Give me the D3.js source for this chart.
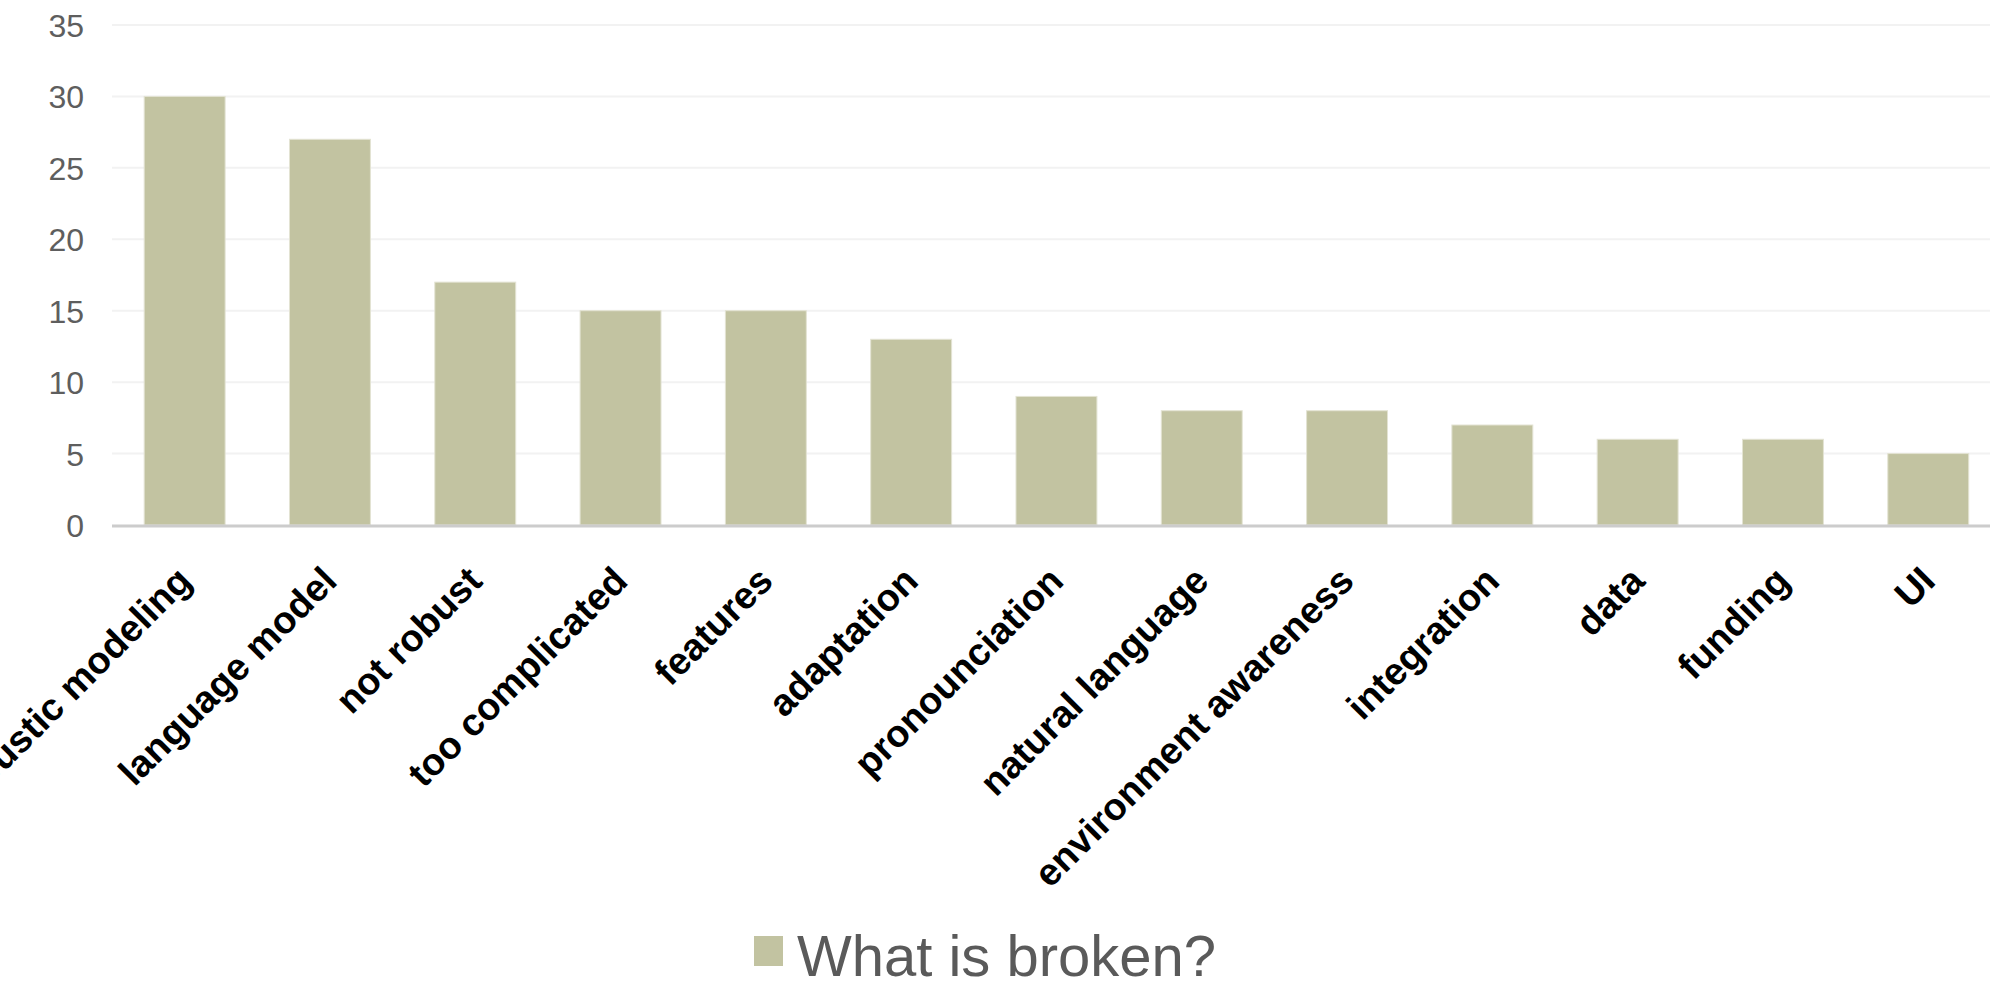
<!DOCTYPE html>
<html>
<head>
<meta charset="utf-8">
<script src="https://cdn.jsdelivr.net/npm/d3@7"></script>
<style>
    body { margin: 0; background: #ffffff; overflow: hidden; }
    svg { display: block; font-family: "Liberation Sans", Arial, sans-serif; }
</style>
</head>
<body>
<div id="chart"></div>
<script>

// data
let categories = ["acoustic modeling", "language model", "not robust", "too complicated", "features",
    "adaptation", "pronounciation", "natural language", "environment awareness", "integration",
    "data", "funding", "UI"];
let counts = [30, 27, 17, 15, 15, 13, 9, 8, 8, 7, 6, 6, 5];
let yTicks = [0, 5, 10, 15, 20, 25, 30, 35];
let seriesName = "What is broken?";

let width = 1990,
    height = 981;

let barColor = "#c2c3a1";

let svg = d3.select("#chart").append("svg")
    .attr("width", width)
    .attr("height", height);

// scales
let y = d3.scaleLinear()
    .domain([0, 35])
    .range([525, 25]);

// the plot runs past the right edge, so the last band is cut
let x = d3.scaleBand()
    .domain(categories)
    .range([112, 112 + 13 * 145.3])
    .paddingInner(0.443)
    .paddingOuter(0.2215);

// gridlines
svg.append("g")
    .selectAll("line")
    .data(yTicks.filter(d => d > 0))
    .enter().append("line")
    .attr("x1", 112)
    .attr("x2", width)
    .attr("y1", d => y(d))
    .attr("y2", d => y(d))
    .attr("stroke", "#f2f2f2")
    .attr("stroke-width", 2);

// y axis labels
let yAxis = d3.axisLeft(y)
    .tickValues(yTicks)
    .tickSize(0)
    .tickPadding(0);

let yAxisGroup = svg.append("g")
    .attr("transform", "translate(84,0)")
    .call(yAxis);

yAxisGroup.select(".domain").remove();
yAxisGroup.selectAll("text")
    .attr("font-size", 32)
    .attr("font-family", "Liberation Sans, Arial, sans-serif")
    .attr("fill", "#5e5e5e")
    .attr("dy", "0.36em");

// bars
svg.append("g")
    .selectAll("rect")
    .data(categories)
    .enter().append("rect")
    .attr("x", d => x(d))
    .attr("y", (d, i) => y(counts[i]))
    .attr("width", x.bandwidth())
    .attr("height", (d, i) => y(0) - y(counts[i]))
    .attr("fill", barColor)
    .attr("stroke", "#e3e3d3")
    .attr("stroke-width", 1);

// baseline
svg.append("line")
    .attr("x1", 112)
    .attr("x2", width)
    .attr("y1", y(0) + 1)
    .attr("y2", y(0) + 1)
    .attr("stroke", "#cccccc")
    .attr("stroke-width", 3);

// x axis labels, rotated
svg.append("g")
    .selectAll("text")
    .data(categories)
    .enter().append("text")
    .attr("transform", d => `translate(${x(d) + x.bandwidth() / 2 + 9}, 583) rotate(-45)`)
    .attr("text-anchor", "end")
    .attr("font-size", 38)
    .attr("font-weight", "bold")
    .attr("fill", "#000000")
    .text(d => d);

// legend
let legend = svg.append("g")
    .attr("class", "legend");

legend.append("rect")
    .attr("x", 754)
    .attr("y", 936)
    .attr("width", 29)
    .attr("height", 30)
    .attr("fill", barColor);

legend.append("text")
    .attr("x", 797)
    .attr("y", 976)
    .attr("font-size", 58)
    .attr("fill", "#5a5a5a")
    .text(seriesName);

</script>
</body>
</html>
